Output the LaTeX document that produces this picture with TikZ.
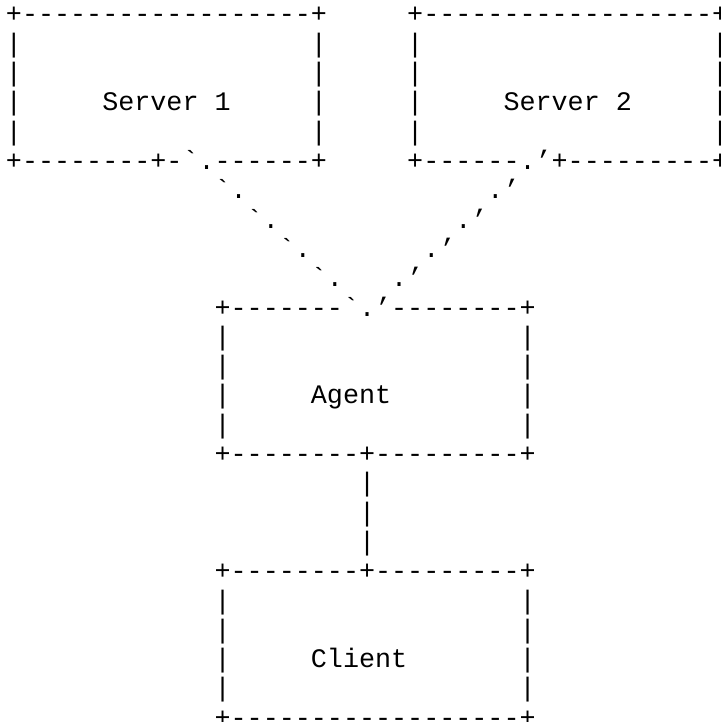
\documentclass[tikz,border=0pt]{standalone}
\usepackage{fontspec}
\setmonofont{Liberation Mono}
\tikzset{glyph/.style={font=\ttfamily\fontsize{26.75}{30}\selectfont,inner sep=0pt,anchor=base}}
% character grid: column width and line height
\newcommand\cw{16.05}
\newcommand\lh{29.3}
\newcommand\putch[3]{\node[glyph] at ({14+(#1)*\cw},{23+(#2)*\lh}) {#3};}
\newcommand\dashrun[3]{\foreach \c in {#2,...,#3} {\putch{\c}{#1}{-}}}
% corners and sides of a 20x6 box
\newcommand\boxsides[2]{%
  \putch{#1}{#2}{+}\putch{#1+19}{#2}{+}
  \putch{#1}{#2+5}{+}\putch{#1+19}{#2+5}{+}
  \foreach \r in {1,...,4} {\putch{#1}{#2+\r}{|}\putch{#1+19}{#2+\r}{|}}}
\begin{document}
\begin{tikzpicture}[x=1pt,y=-1pt]
  \useasboundingbox (0,0) rectangle (720,722);
  % Server 1
  \boxsides{0}{0}
  \dashrun{0}{1}{18}
  \dashrun{5}{1}{8} \putch{9}{5}{+} \putch{10}{5}{-}
  \putch{11}{5}{`} \putch{12}{5}{.} \dashrun{5}{13}{18}
  \node[glyph] (srvA) at ({14+9.5*\cw},{23+3*\lh}) {Server 1};
  % Server 2
  \boxsides{25}{0}
  \dashrun{0}{26}{43}
  \dashrun{5}{26}{31} \putch{32}{5}{.} \putch{33}{5}{’}
  \putch{34}{5}{+} \dashrun{5}{35}{43}
  \node[glyph] (srvB) at ({14+34.5*\cw},{23+3*\lh}) {Server 2};
  % dotted links down to the agent
  \foreach \i in {0,...,3} {
    \putch{13+2*\i}{6+\i}{`} \putch{14+2*\i}{6+\i}{.}
    \putch{30-2*\i}{6+\i}{.} \putch{31-2*\i}{6+\i}{’}
  }
  % Agent
  \boxsides{13}{10}
  \dashrun{10}{14}{20} \putch{21}{10}{`} \putch{22}{10}{.}
  \putch{23}{10}{’} \dashrun{10}{24}{31}
  \dashrun{15}{14}{21} \putch{22}{15}{+} \dashrun{15}{23}{31}
  \node[glyph] (agent) at ({14+21*\cw},{23+13*\lh}) {Agent};
  % link to the client
  \foreach \r in {16,17,18} {\putch{22}{\r}{|}}
  % Client
  \boxsides{13}{19}
  \dashrun{19}{14}{21} \putch{22}{19}{+} \dashrun{19}{23}{31}
  \dashrun{24}{14}{31}
  \node[glyph] (client) at ({14+21.5*\cw},{23+22*\lh}) {Client};
\end{tikzpicture}
\end{document}
